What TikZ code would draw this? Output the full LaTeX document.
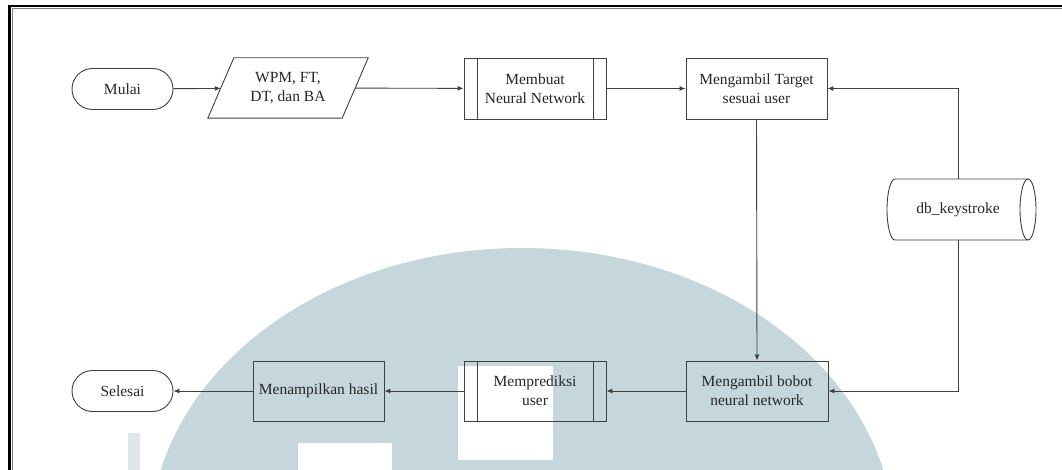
\documentclass[tikz,border=0pt]{standalone}
\usepackage{fontspec}
\setmainfont{Liberation Serif}
\newfontfamily\chartfont{Liberation Serif}
\usetikzlibrary{arrows.meta,shapes.geometric}

\definecolor{edge}{HTML}{404040}
\definecolor{ink}{HTML}{262626}
\definecolor{wmark}{HTML}{C6D6DD}

\tikzset{
  boxline/.style={draw=edge, line width=0.9pt},
  lbl/.style={font=\chartfont\fontsize{15.5}{19}\selectfont, text=ink, align=center, inner sep=0pt},
  terminal/.style={lbl, boxline, rounded corners=20.5pt, minimum width=101pt, minimum height=41pt},
  process/.style={lbl, boxline, rectangle},
  subproc/.style={process, path picture={
      \draw[boxline] ([xshift=13pt]path picture bounding box.north west) -- ([xshift=13pt]path picture bounding box.south west);
      \draw[boxline] ([xshift=-13pt]path picture bounding box.north east) -- ([xshift=-13pt]path picture bounding box.south east);}},
  flow/.style={draw=edge, line width=0.9pt, -{Latex[length=6pt,width=5pt]}},
}

\begin{document}
\begin{tikzpicture}[x=1pt, y=-1pt]
\useasboundingbox (0,0) rectangle (1062,470);
\fill[white] (0,0) rectangle (1062,470);

% faint logo watermark behind the chart
\begin{scope}
  \clip (0,0) rectangle (1062,470);
  \fill[wmark] (522,540) ellipse [x radius=372pt, y radius=292pt];
  \fill[white] (458,366) rectangle (553,460);
  \fill[white] (298,443) rectangle (392,470);
  \fill[wmark!60] (128,433) rectangle (140,470);
\end{scope}

% page frame (top and left edges)
\draw[black, line width=2.2pt] (9.5,470) -- (9.5,6.2) -- (1062,6.2);
\draw[gray, line width=0.8pt] (12.6,470) -- (12.6,8.9) -- (1062,8.9);

% top row
\node[terminal] (mulai) at (122.5,89) {Mulai};
\node[lbl, minimum width=134pt, minimum height=60pt] (input) at (288,88) {WPM, FT,\\DT, dan BA};
\draw[boxline] ([xshift=-13pt]input.south west) -- ([xshift=-13pt]input.south east)
  -- ([xshift=13pt]input.north east) -- ([xshift=13pt]input.north west) -- cycle;
\node[subproc, minimum width=142pt, minimum height=61pt] (buat) at (535,88.5) {Membuat\\Neural Network};
\node[process, minimum width=141pt, minimum height=61pt] (target) at (756.5,88.5) {Mengambil Target\\sesuai user};

% database
\node[lbl, minimum width=140pt, minimum height=61pt] (db) at (958,209.5) {db\_keystroke};
\draw[boxline] (1028,179) -- (895,179) arc[start angle=90, end angle=270, x radius=8pt, y radius=30.5pt] -- (1028,240);
\draw[boxline] (1028,209.5) ellipse [x radius=8pt, y radius=30.5pt];

% bottom row
\node[process, minimum width=142pt, minimum height=60pt] (bobot) at (757,391) {Mengambil bobot\\neural network};
\node[subproc, minimum width=142pt, minimum height=60pt] (prediksi) at (535,391) {Memprediksi\\user};
\node[process, minimum width=131pt, minimum height=60pt] (tampil) at (318.5,391) {Menampilkan hasil};
\node[terminal] (selesai) at (122.5,391) {Selesai};

% connectors
\draw[flow] (mulai) -- (input);
\draw[flow] (input) -- (buat);
\draw[flow] (buat) -- (target);
\draw[flow] (db.north) |- (target.east);
\draw[flow] (target.south) -- (bobot.north);
\draw[flow] (db.south) |- (bobot.east);
\draw[flow] (bobot) -- (prediksi);
\draw[flow] (prediksi) -- (tampil);
\draw[flow] (tampil) -- (selesai);
\end{tikzpicture}
\end{document}
